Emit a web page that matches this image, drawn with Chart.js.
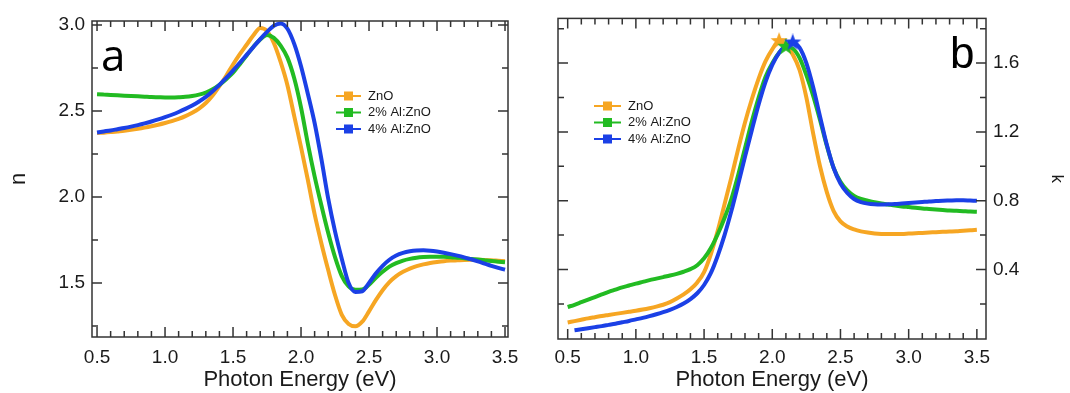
<!DOCTYPE html>
<html>
<head>
<meta charset="utf-8">
<script src="https://cdn.jsdelivr.net/npm/chart.js@4.4.0/dist/chart.umd.min.js"></script>
<style>
  html, body { margin: 0; padding: 0; background: #fff; }
  #wrap { position: relative; width: 1070px; height: 393px; }
  canvas { position: absolute; top: 0; }
  #chartN { left: 0; }
  #chartK { left: 535px; }
</style>
</head>
<body>
<div id="wrap">
  <canvas id="chartN" width="530" height="393"></canvas>
  <canvas id="chartK" width="535" height="393"></canvas>
</div>
<script>
// photon energy grid (eV)
const energy = [
  0.50, 0.55, 0.60, 0.65, 0.70, 0.75, 0.80, 0.85, 0.90, 0.95,
  1.00, 1.05, 1.10, 1.15, 1.20, 1.25, 1.30, 1.35, 1.40, 1.45,
  1.50, 1.55, 1.60, 1.65, 1.70, 1.75, 1.80, 1.85, 1.90, 1.95,
  2.00, 2.05, 2.10, 2.15, 2.20, 2.25, 2.30, 2.35, 2.40, 2.45,
  2.50, 2.55, 2.60, 2.65, 2.70, 2.75, 2.80, 2.85, 2.90, 2.95,
  3.00, 3.05, 3.10, 3.15, 3.20, 3.25, 3.30, 3.35, 3.40, 3.45, 3.50
];

const seriesNames = ['ZnO', '2% Al:ZnO', '4% Al:ZnO'];

// refractive index n
const nZnO = [
  2.372, 2.374, 2.377, 2.381, 2.385, 2.390, 2.396, 2.403, 2.411, 2.420,
  2.430, 2.441, 2.454, 2.470, 2.490, 2.514, 2.546, 2.590, 2.645, 2.705,
  2.770, 2.830, 2.885, 2.940, 2.983, 2.965, 2.895, 2.785, 2.650, 2.470,
  2.290, 2.100, 1.900, 1.730, 1.575, 1.430, 1.315, 1.262, 1.248, 1.275,
  1.335, 1.400, 1.458, 1.505, 1.540, 1.565, 1.584, 1.598, 1.608, 1.616,
  1.622, 1.627, 1.630, 1.632, 1.634, 1.635, 1.635, 1.634, 1.632, 1.629, 1.626
];
const nAl2 = [
  2.597, 2.595, 2.593, 2.591, 2.589, 2.587, 2.585, 2.583, 2.581, 2.580,
  2.579, 2.579, 2.580, 2.582, 2.587, 2.595, 2.607, 2.626, 2.652, 2.685,
  2.722, 2.772, 2.823, 2.873, 2.915, 2.942, 2.925, 2.880, 2.810, 2.690,
  2.520, 2.310, 2.120, 1.950, 1.790, 1.650, 1.540, 1.480, 1.460, 1.462,
  1.490, 1.530, 1.565, 1.595, 1.615, 1.630, 1.640, 1.647, 1.651, 1.653,
  1.653, 1.652, 1.650, 1.647, 1.644, 1.640, 1.636, 1.632, 1.628, 1.624, 1.620
];
const nAl4 = [
  2.375, 2.381, 2.387, 2.394, 2.401, 2.409, 2.418, 2.428, 2.439, 2.451,
  2.464, 2.478, 2.494, 2.512, 2.532, 2.555, 2.582, 2.615, 2.652, 2.692,
  2.735, 2.780, 2.826, 2.872, 2.918, 2.960, 2.995, 3.008, 2.978, 2.890,
  2.760, 2.600, 2.430, 2.220, 1.990, 1.800, 1.640, 1.500, 1.448, 1.452,
  1.500, 1.555, 1.600, 1.635, 1.660, 1.675, 1.684, 1.689, 1.690, 1.688,
  1.683, 1.676, 1.668, 1.659, 1.649, 1.638, 1.626, 1.613, 1.600, 1.588, 1.577
];

// extinction coefficient k
const kZnO = [
  0.092, 0.100, 0.108, 0.116, 0.123, 0.130, 0.136, 0.142, 0.148, 0.154,
  0.160, 0.167, 0.175, 0.184, 0.195, 0.210, 0.231, 0.255, 0.285, 0.325,
  0.385, 0.490, 0.625, 0.780, 0.935, 1.100, 1.255, 1.390, 1.510, 1.610,
  1.680, 1.728, 1.705, 1.650, 1.560, 1.400, 1.190, 1.000, 0.850, 0.740,
  0.680, 0.650, 0.633, 0.622, 0.615, 0.610, 0.607, 0.606, 0.606, 0.607,
  0.609, 0.611, 0.613, 0.615, 0.617, 0.619, 0.621, 0.623, 0.626, 0.628, 0.631
];
const kAl2 = [
  0.182, 0.195, 0.210, 0.225, 0.240, 0.255, 0.270, 0.283, 0.296, 0.307,
  0.318, 0.328, 0.338, 0.347, 0.356, 0.365, 0.375, 0.387, 0.402, 0.425,
  0.465, 0.525, 0.605, 0.700, 0.810, 0.950, 1.105, 1.260, 1.400, 1.520,
  1.600, 1.660, 1.695, 1.685, 1.630, 1.530, 1.410, 1.270, 1.120, 0.990,
  0.910, 0.860, 0.828, 0.810, 0.800, 0.791, 0.784, 0.778, 0.772, 0.767,
  0.763, 0.759, 0.755, 0.752, 0.749, 0.746, 0.743, 0.741, 0.739, 0.737, 0.736
];
const kAl4 = [
  null, 0.047, 0.053, 0.059, 0.065, 0.071, 0.078, 0.085, 0.093, 0.101,
  0.110, 0.119, 0.129, 0.140, 0.152, 0.166, 0.182, 0.202, 0.228, 0.262,
  0.310, 0.380, 0.480, 0.600, 0.740, 0.895, 1.055, 1.210, 1.360, 1.490,
  1.590, 1.660, 1.700, 1.720, 1.690, 1.600, 1.460, 1.290, 1.125, 0.990,
  0.900, 0.845, 0.810, 0.792, 0.783, 0.779, 0.778, 0.779, 0.781, 0.784,
  0.787, 0.790, 0.793, 0.796, 0.798, 0.800, 0.801, 0.802, 0.802, 0.801, 0.800
];

// labelled ticks
const energyTicks = [0.5, 1.0, 1.5, 2.0, 2.5, 3.0, 3.5];
const nTicks = [1.5, 2.0, 2.5, 3.0];
const kTicks = [0.4, 0.8, 1.2, 1.6];

const COLORS = ['#F6A623', '#22BB22', '#1B40E6'];
const AXIS = '#333';
const TEXT = '#1a1a1a';

Chart.defaults.font.family = "'Liberation Sans', Arial, sans-serif";
Chart.defaults.color = TEXT;

const toPoints = vals => energy.map((e, i) => ({ x: e, y: vals[i] }));

function peakOf(vals) {
  let best = -1;
  vals.forEach((v, i) => { if (v !== null && (best < 0 || v > vals[best])) best = i; });
  return { x: energy[best], y: vals[best] };
}

// small filled star used as the peak marker
function starImage(color) {
  const c = document.createElement('canvas');
  c.width = c.height = 18;
  const g = c.getContext('2d');
  g.fillStyle = color;
  g.beginPath();
  for (let i = 0; i < 10; i++) {
    const r = i % 2 ? 3.8 : 9;
    const a = -Math.PI / 2 + i * Math.PI / 5;
    g.lineTo(9 + r * Math.cos(a), 9 + r * Math.sin(a));
  }
  g.closePath();
  g.fill();
  return c;
}

function curve(vals, idx) {
  return {
    label: seriesNames[idx],
    data: toPoints(vals),
    borderColor: COLORS[idx],
    backgroundColor: COLORS[idx],
    borderWidth: 4,
    pointRadius: 0,
    cubicInterpolationMode: 'monotone',
    fill: false,
    order: 6 - idx
  };
}

// frame, inward tick marks, panel letter and in-plot legend
const framePlugin = {
  id: 'frame',
  afterDraw(chart, args, o) {
    const { ctx, chartArea: ca, scales } = chart;
    ctx.save();
    ctx.strokeStyle = AXIS;
    ctx.lineWidth = 1.5;
    ctx.beginPath();
    const mark = (scale, step, major, horizontal) => {
      for (let i = Math.ceil(scale.min / step - 1e-9); i * step <= scale.max + 1e-9; i++) {
        const v = i * step;
        const len = Math.abs(v / major - Math.round(v / major)) < 1e-6 ? 10 : 6;
        const p = scale.getPixelForValue(v);
        if (horizontal) {
          if (p < ca.left + 2 || p > ca.right - 2) continue;
          ctx.moveTo(p, ca.bottom); ctx.lineTo(p, ca.bottom - len);
          ctx.moveTo(p, ca.top); ctx.lineTo(p, ca.top + len);
        } else {
          if (p < ca.top + 2 || p > ca.bottom - 2) continue;
          ctx.moveTo(ca.left, p); ctx.lineTo(ca.left + len, p);
          ctx.moveTo(ca.right, p); ctx.lineTo(ca.right - len, p);
        }
      }
    };
    mark(scales.x, o.xMinor, o.xMajor, true);
    mark(scales.y, o.yMinor, o.yMajor, false);
    ctx.stroke();
    ctx.strokeRect(ca.left, ca.top, ca.width, ca.height);

    ctx.fillStyle = '#000';
    ctx.font = o.letterFont;
    ctx.textAlign = 'left';
    ctx.textBaseline = 'alphabetic';
    ctx.fillText(o.letter, o.letterX, o.letterY);

    const lg = o.legend;
    ctx.font = "13px 'Liberation Sans', Arial, sans-serif";
    ctx.textBaseline = 'middle';
    seriesNames.forEach((name, i) => {
      const y = lg.y + i * lg.step;
      ctx.strokeStyle = COLORS[i];
      ctx.lineWidth = 2;
      ctx.beginPath();
      ctx.moveTo(lg.x, y); ctx.lineTo(lg.x + lg.len, y);
      ctx.stroke();
      ctx.fillStyle = COLORS[i];
      ctx.fillRect(lg.x + lg.len / 2 - 4.5, y - 4.5, 9, 9);
      ctx.fillStyle = TEXT;
      ctx.fillText(name, lg.x + lg.len + 7, y);
    });
    ctx.restore();
  }
};

const fmt = v => v.toFixed(1);

function energyAxis(min, max, height, pad) {
  return {
    type: 'linear', position: 'bottom', bounds: 'data', min, max,
    grid: { display: false, drawTicks: false },
    border: { display: false },
    ticks: { padding: pad, font: { size: 19 }, color: TEXT, callback: fmt, maxRotation: 0 },
    afterBuildTicks: s => { s.ticks = energyTicks.map(v => ({ value: v })); },
    afterFit: s => { s.height = height; },
    title: { display: true, text: 'Photon Energy (eV)', font: { size: 22 }, color: TEXT, padding: { top: 0, bottom: 0 } }
  };
}

const common = {
  responsive: false,
  animation: false,
  devicePixelRatio: 1,
  events: [],
  plugins: { legend: { display: false }, tooltip: { enabled: false } }
};

// n
new Chart(document.getElementById('chartN'), {
  type: 'line',
  data: { datasets: [curve(nZnO, 0), curve(nAl2, 1), curve(nAl4, 2)] },
  options: {
    ...common,
    layout: { padding: { left: 0, right: 22, top: 21, bottom: 0 } },
    scales: {
      x: energyAxis(0.463, 3.522, 56, 9),
      y: {
        type: 'linear', position: 'left', bounds: 'data', min: 1.186, max: 3.023,
        grid: { display: false, drawTicks: false },
        border: { display: false },
        ticks: { padding: 7, font: { size: 19 }, color: TEXT, callback: fmt },
        afterBuildTicks: s => { s.ticks = nTicks.map(v => ({ value: v })); },
        afterFit: s => { s.width = 92; },
        title: { display: true, text: 'n', font: { size: 22 }, color: TEXT, padding: { top: 6, bottom: 0 } }
      }
    },
    plugins: {
      ...common.plugins,
      frame: {
        xMinor: 0.1, xMajor: 0.5, yMinor: 0.25, yMajor: 0.5,
        letter: 'a', letterFont: "44px 'Open Sans', sans-serif", letterX: 101, letterY: 71,
        legend: { x: 336, y: 96, step: 16.5, len: 25 }
      }
    }
  },
  plugins: [framePlugin]
});

// k
const stars = [kZnO, kAl2, kAl4].map((vals, i) => ({
  type: 'scatter',
  data: [peakOf(vals)],
  pointStyle: starImage(COLORS[i]),
  pointRadius: 9,
  showLine: false,
  order: 3 - i
}));

new Chart(document.getElementById('chartK'), {
  type: 'line',
  data: { datasets: [curve(kZnO, 0), curve(kAl2, 1), curve(kAl4, 2), ...stars] },
  options: {
    ...common,
    layout: { padding: { left: 23, right: 0, top: 16, bottom: 0 } },
    scales: {
      x: energyAxis(0.429, 3.567, 54, 7),
      y: {
        type: 'linear', position: 'right', bounds: 'data', min: -0.004, max: 1.86,
        grid: { display: false, drawTicks: false },
        border: { display: false },
        ticks: { padding: 7, font: { size: 19 }, color: TEXT, callback: fmt },
        afterBuildTicks: s => { s.ticks = kTicks.map(v => ({ value: v })); },
        afterFit: s => { s.width = 84; },
        title: { display: true, text: 'k', font: { size: 17 }, color: TEXT, padding: { top: 3, bottom: 0 } }
      }
    },
    plugins: {
      ...common.plugins,
      frame: {
        xMinor: 0.1, xMajor: 0.5, yMinor: 0.2, yMajor: 0.4,
        letter: 'b', letterFont: "44px 'Liberation Sans', Arial, sans-serif", letterX: 415, letterY: 68,
        legend: { x: 59, y: 106, step: 16.5, len: 27 }
      }
    }
  },
  plugins: [framePlugin]
});
</script>
</body>
</html>
